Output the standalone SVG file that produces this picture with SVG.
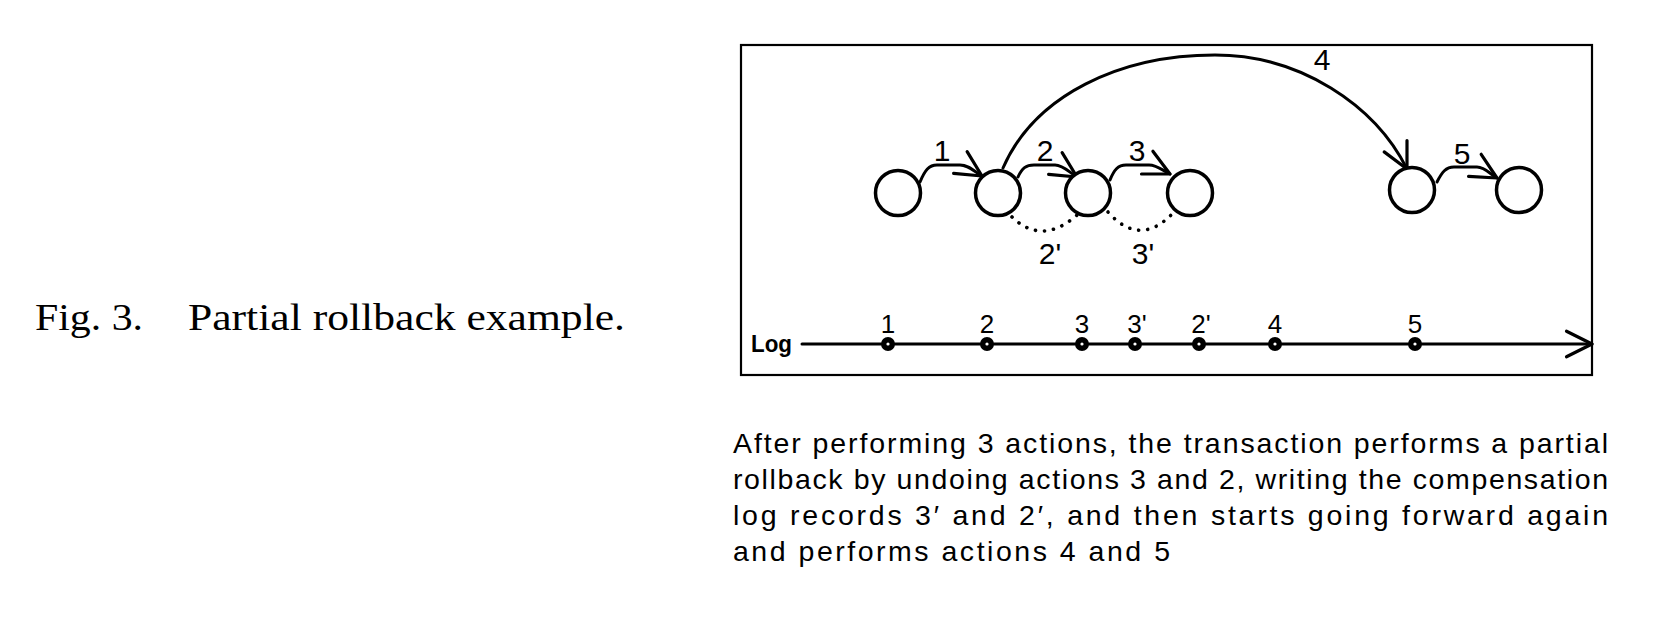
<svg xmlns="http://www.w3.org/2000/svg" width="1662" height="636" viewBox="0 0 1662 636">
<style>
.bg{fill:#fff}
.frame{fill:none;stroke:#000;stroke-width:2.2}
.state{fill:#fff;stroke:#000;stroke-width:3.5}
.edge{fill:none;stroke:#000;stroke-width:3;stroke-linecap:round;stroke-linejoin:round}
.undo{fill:none;stroke:#000;stroke-width:3.6;stroke-linecap:round;stroke-dasharray:0.1 9}
.lbl{font-family:"Liberation Sans",Arial,sans-serif;font-size:30px;fill:#000;text-anchor:middle}
.loglbl{font-family:"Liberation Sans",Arial,sans-serif;font-size:26px;fill:#000;text-anchor:middle}
.logtxt{font-family:"Liberation Sans",Arial,sans-serif;font-size:23px;font-weight:bold;fill:#000}
.para{font-family:"Liberation Sans",Arial,sans-serif;font-size:28.5px;fill:#000}
.cap{font-family:"Liberation Serif","Times New Roman",serif;font-size:38px;fill:#000}
.dot{fill:#000}
.dotc{fill:#fff}
</style>
<defs>
<marker id="open" markerUnits="userSpaceOnUse" markerWidth="34" markerHeight="34" viewBox="-28 -16 32 32" refX="0" refY="0" orient="auto">
<path d="M-24,-12 L0,0 L-24,12" fill="none" stroke="#000" stroke-width="3" stroke-linecap="round" stroke-linejoin="round"/>
</marker>
</defs>
<rect class="bg" x="0" y="0" width="1662" height="636"/>

<g id="caption">
<text class="cap" x="35" y="330" textLength="108" lengthAdjust="spacingAndGlyphs">Fig. 3.</text>
<text class="cap" x="188" y="330" textLength="437" lengthAdjust="spacingAndGlyphs">Partial rollback example.</text>
</g>

<rect class="frame" x="741" y="45" width="851" height="330"/>

<g id="connectors">
<path id="e1" class="edge" d="M920,182 C925,170 929,165 937,165 L960,165 C968,165 974,171 982,176" marker-end="url(#open)"/>
<path id="e2" class="edge" d="M1018,177 C1022,168 1026,165 1034,165 L1055,165 C1063,165 1069,172 1077,177" marker-end="url(#open)"/>
<path id="e3" class="edge" d="M1110,180 C1114,170 1118,165 1126,165 L1149,165 C1157,165 1162,170 1170,174" marker-end="url(#open)"/>
<path id="e4" class="edge" d="M1003,168 C1035,95 1120,55 1215,55 C1300,55 1375,105 1407,169" marker-end="url(#open)"/>
<path id="e5" class="edge" d="M1437,182 C1442,172 1446,167 1454,167 L1477,167 C1485,167 1490,174 1497,178" marker-end="url(#open)"/>
<path id="u2" class="undo" d="M1012,217 Q1042,246 1077,215"/>
<path id="u3" class="undo" d="M1108,212 Q1140,248 1173,213"/>
<path id="log" class="edge" d="M802,344 L1592,344" marker-end="url(#open)"/>
</g>

<g id="edge-labels">
<text class="lbl" x="942" y="161">1</text>
<text class="lbl" x="1045" y="161">2</text>
<text class="lbl" x="1137" y="161">3</text>
<text class="lbl" x="1322" y="70">4</text>
<text class="lbl" x="1462" y="164">5</text>
<text class="lbl" x="1050" y="264">2'</text>
<text class="lbl" x="1143" y="264">3'</text>
</g>

<g id="s0"><circle class="state" cx="898" cy="193" r="22.5"/></g>
<g id="s1"><circle class="state" cx="998" cy="193" r="22.5"/></g>
<g id="s2"><circle class="state" cx="1088" cy="193" r="22.5"/></g>
<g id="s3"><circle class="state" cx="1190" cy="193" r="22.5"/></g>
<g id="s4"><circle class="state" cx="1412" cy="190" r="22.5"/></g>
<g id="s5"><circle class="state" cx="1519" cy="190" r="22.5"/></g>

<g id="log-axis">
<text class="logtxt" x="751" y="352" textLength="41" lengthAdjust="spacingAndGlyphs">Log</text>
<g id="r1"><circle class="dot" cx="888" cy="344" r="7"/><circle class="dotc" cx="888" cy="344" r="1.6"/><text class="loglbl" x="888" y="333">1</text></g>
<g id="r2"><circle class="dot" cx="987" cy="344" r="7"/><circle class="dotc" cx="987" cy="344" r="1.6"/><text class="loglbl" x="987" y="333">2</text></g>
<g id="r3"><circle class="dot" cx="1082" cy="344" r="7"/><circle class="dotc" cx="1082" cy="344" r="1.6"/><text class="loglbl" x="1082" y="333">3</text></g>
<g id="r3p"><circle class="dot" cx="1135" cy="344" r="7"/><circle class="dotc" cx="1135" cy="344" r="1.6"/><text class="loglbl" x="1137" y="333">3'</text></g>
<g id="r2p"><circle class="dot" cx="1199" cy="344" r="7"/><circle class="dotc" cx="1199" cy="344" r="1.6"/><text class="loglbl" x="1201" y="333">2'</text></g>
<g id="r4"><circle class="dot" cx="1275" cy="344" r="7"/><circle class="dotc" cx="1275" cy="344" r="1.6"/><text class="loglbl" x="1275" y="333">4</text></g>
<g id="r5"><circle class="dot" cx="1415" cy="344" r="7"/><circle class="dotc" cx="1415" cy="344" r="1.6"/><text class="loglbl" x="1415" y="333">5</text></g>
</g>

<g id="description">
<text class="para" x="733" y="453" textLength="875" lengthAdjust="spacing">After performing 3 actions, the transaction performs a partial</text>
<text class="para" x="733" y="489" textLength="875" lengthAdjust="spacing">rollback by undoing actions 3 and 2, writing the compensation</text>
<text class="para" x="733" y="525" textLength="875" lengthAdjust="spacing">log records 3′ and 2′, and then starts going forward again</text>
<text class="para" x="733" y="561" textLength="437" lengthAdjust="spacing">and performs actions 4 and 5</text>
</g>
</svg>
